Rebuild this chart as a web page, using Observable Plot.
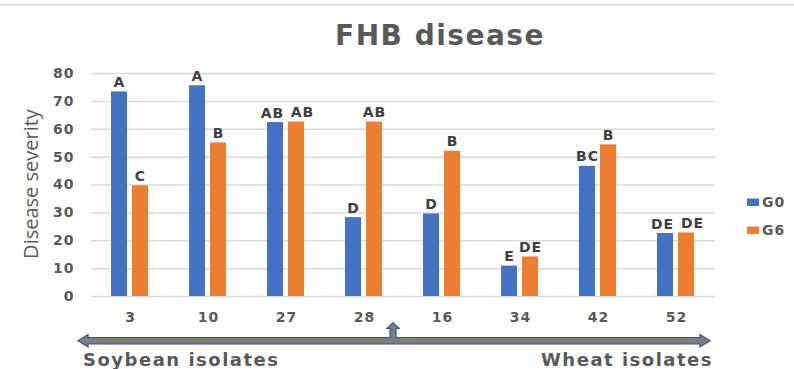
<!DOCTYPE html>
<html>
<head>
<meta charset="utf-8">
<script src="https://cdn.jsdelivr.net/npm/d3@7"></script>
<script src="https://cdn.jsdelivr.net/npm/@observablehq/plot@0.6"></script>
<style>
  html, body { margin: 0; padding: 0; background: #fff; }
  #wrap { position: relative; width: 794px; height: 369px; overflow: hidden; }
  #chart, #deco { position: absolute; left: 0; top: 0; }
  #chart svg text { font-size: 14px; }
</style>
</head>
<body>
<div id="wrap">
  <div id="chart"></div>
  <svg id="deco" width="794" height="369"></svg>
</div>
<script>
const titleText = "FHB disease";
const yLabel = "Disease severity";
const isolates = ["3", "10", "27", "28", "16", "34", "42", "52"];
const series = ["G0", "G6"];
const colors = ["#4472C4", "#ED7D31"];
const g0 = [73.4, 75.6, 62.4, 28.3, 29.6, 10.9, 46.7, 22.6];
const g6 = [39.7, 55.1, 62.6, 62.6, 52.1, 14.2, 54.4, 22.8];
const g0Letters = ["A", "A", "AB", "D", "D", "E", "BC", "DE"];
const g6Letters = ["C", "B", "AB", "AB", "B", "DE", "B", "DE"];
const yTicks = [0, 10, 20, 30, 40, 50, 60, 70, 80];
const groupLabels = ["Soybean isolates", "Wheat isolates"];

const data = isolates.flatMap((iso, i) => {
  const crowded = g0Letters[i].length > 1 && g6Letters[i].length > 1;
  return [
    {isolate: iso, series: "G0", value: g0[i], letter: g0Letters[i], crowded},
    {isolate: iso, series: "G6", value: g6[i], letter: g6Letters[i], crowded}
  ];
});

const labelStyle = {fx: "isolate", x: "series", y: "value", text: "letter", lineAnchor: "bottom", dy: -5, fill: "#404040", fontSize: 14, fontWeight: "bold"};

const plot = Plot.plot({
  width: 794,
  height: 369,
  marginTop: 73,
  marginBottom: 73,
  marginLeft: 89,
  marginRight: 77,
  style: {fontFamily: "DejaVu Sans", fontWeight: "bold", fontSize: "14px", color: "#595959", letterSpacing: "1px", background: "transparent"},
  fx: {domain: isolates, padding: 0, label: null, tickSize: 0, tickPadding: 16, axis: "bottom"},
  x: {domain: series, paddingInner: 0.23, paddingOuter: 0.9, axis: null},
  y: {domain: [0, 80], ticks: yTicks, label: null, tickSize: 0, tickPadding: 17},
  color: {domain: series, range: colors},
  marks: [
    Plot.ruleY(yTicks, {stroke: "#d9d9d9", strokeWidth: 1.5}),
    Plot.barY(data, {fx: "isolate", x: "series", y: "value", fill: "series"}),
    Plot.text(data.filter(d => !d.crowded), labelStyle),
    Plot.text(data.filter(d => d.crowded && d.series === "G0"), {...labelStyle, dx: -3}),
    Plot.text(data.filter(d => d.crowded && d.series === "G6"), {...labelStyle, dx: 6})
  ]
});
document.getElementById("chart").appendChild(plot);

const color = plot.scale("color");
const deco = d3.select("#deco");
const grey = "#595959";

// top border line
deco.append("rect").attr("x", 0).attr("y", 4).attr("width", 794).attr("height", 1.5).attr("fill", "#d9d9d9");

// title
deco.append("text").attr("x", 440).attr("y", 45).attr("text-anchor", "middle")
  .attr("font-family", "DejaVu Sans").attr("font-weight", "bold").attr("font-size", 28)
  .attr("letter-spacing", "1.5px").attr("fill", grey).text(titleText);

// y label
deco.append("text").attr("transform", "translate(38,184) rotate(-90)").attr("text-anchor", "middle")
  .attr("font-family", "Open Sans").attr("font-size", 20).attr("fill", grey).text(yLabel);

// legend
series.forEach((s, i) => {
  const y = 198.5 + i * 28;
  deco.append("rect").attr("x", 747).attr("y", y).attr("width", 12).attr("height", 7.5).attr("fill", color.apply(s));
  deco.append("text").attr("x", 762).attr("y", y + 8.5)
    .attr("font-family", "DejaVu Sans").attr("font-weight", "bold").attr("font-size", 14)
    .attr("letter-spacing", "1px").attr("fill", grey).text(s);
});

// arrow
deco.append("path")
  .attr("d", "M78,340.7 L88,334.5 L88,337.5 L390,337.5 L390,328.5 L387,328.5 L393,322.5 L399,328.5 L396,328.5 L396,337.5 L700,337.5 L700,334.5 L710,340.7 L700,347 L700,344 L88,344 L88,347 Z")
  .attr("fill", "#7f7f7f").attr("stroke", "#2f5597").attr("stroke-width", 1.2);

// group labels
deco.append("text").attr("x", 83).attr("y", 366)
  .attr("font-family", "DejaVu Sans").attr("font-weight", "bold").attr("font-size", 18)
  .attr("letter-spacing", "1.5px").attr("fill", grey).text(groupLabels[0]);
deco.append("text").attr("x", 713).attr("y", 366).attr("text-anchor", "end")
  .attr("font-family", "DejaVu Sans").attr("font-weight", "bold").attr("font-size", 18)
  .attr("letter-spacing", "1.5px").attr("fill", grey).text(groupLabels[1]);
</script>
</body>
</html>
